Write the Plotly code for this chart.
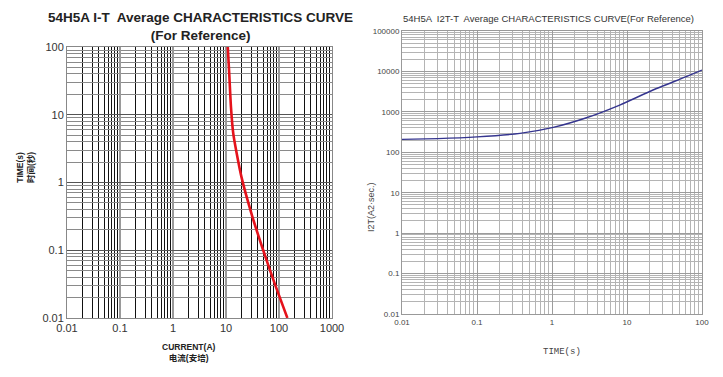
import plotly.graph_objects as go

# ---- data ----
it_current = [10.8, 11.5, 12.4, 13.7, 15.9, 19.6, 30.8, 48.9, 80.5, 144.0]
it_time    = [100, 40.9, 13.1, 5.3, 2.7, 1.2, 0.331, 0.107, 0.0344, 0.01]

i2t_time  = [0.01, 0.03, 0.1, 0.374, 1.04, 2.88, 8.0, 22.2, 61.6, 100]
i2t_value = [209, 218, 240, 294, 413, 715, 1472, 3470, 7400, 10800]

left_x_ticks = [0.01, 0.1, 1, 10, 100, 1000]
left_x_text = ["0.01", "0.1", "1", "10", "100", "1000"]
left_y_ticks = [0.01, 0.1, 1, 10, 100]
left_y_text = ["0.01", "0.1", "1", "10", "100"]
right_x_ticks = [0.01, 0.1, 1, 10, 100]
right_x_text = ["0.01", "0.1", "1", "10", "100"]
right_y_ticks = [0.01, 0.1, 1, 10, 100, 1000, 10000, 100000]
right_y_text = ["0.01", "0.1", "1", "10", "100", "1000", "10000", "100000"]

left_title = "54H5A I-T  Average CHARACTERISTICS CURVE<br>(For Reference)"
right_title = "54H5A  I2T-T  Average CHARACTERISTICS CURVE(For Reference)"


def minors(lo_exp, hi_exp):
    vals = []
    for e in range(lo_exp, hi_exp):
        for m in range(2, 10):
            vals.append(m * 10 ** e)
    return vals


# page body has an 8px margin: the figure is drawn from (8, 8)
OFF = 8
W, H = 723 - OFF, 377 - OFF


def px(x):
    return (x - OFF) / W


def py(y):
    return 1 - (y - OFF) / H


fig = go.Figure()

fig.add_trace(go.Scatter(x=it_current, y=it_time, mode="lines",
                         line=dict(color="#e5121b", width=2.6, shape="spline", smoothing=0.7),
                         xaxis="x", yaxis="y", showlegend=False))
fig.add_trace(go.Scatter(x=i2t_time, y=i2t_value, mode="lines",
                         line=dict(color="#35358f", width=1.4, shape="spline", smoothing=0.6),
                         xaxis="x2", yaxis="y2", showlegend=False))

tickfont_l = dict(family="Liberation Sans, Arial", size=11, color="#333333")
tickfont_r = dict(family="Liberation Sans, Arial", size=8, color="#444444")

fig.update_layout(
    width=W, height=H,
    margin=dict(l=0, r=0, t=0, b=0, autoexpand=False),
    paper_bgcolor="white", plot_bgcolor="white",
    xaxis=dict(type="log", range=[-2, 3], domain=[px(67), px(332)], automargin=False,
               tickmode="array", tickvals=left_x_ticks, ticktext=left_x_text,
               showgrid=True, gridcolor="#9a9a9a", gridwidth=1.6,
               minor=dict(tickvals=minors(-2, 3), showgrid=True, gridcolor="#111111", gridwidth=1),
               showline=True, linecolor="#888888", mirror=True, ticks="",
               tickfont=tickfont_l, anchor="y", zeroline=False),
    yaxis=dict(type="log", range=[-2, 2], domain=[py(318), py(47)], automargin=False,
               tickmode="array", tickvals=left_y_ticks, ticktext=left_y_text,
               showgrid=True, gridcolor="#555555", gridwidth=1,
               minor=dict(tickvals=minors(-2, 2), showgrid=True, gridcolor="#8a8a8a", gridwidth=1),
               showline=True, linecolor="#888888", mirror=True, ticks="",
               tickfont=tickfont_l, anchor="x", zeroline=False),
    xaxis2=dict(type="log", range=[-2, 2], domain=[px(402), px(702)], automargin=False,
                tickmode="array", tickvals=right_x_ticks, ticktext=right_x_text,
                showgrid=True, gridcolor="#9c9c9c", gridwidth=1,
                minor=dict(tickvals=minors(-2, 2), showgrid=True, gridcolor="#b4b4b4", gridwidth=1),
                showline=True, linecolor="#999999", mirror=True, ticks="",
                tickfont=tickfont_r, anchor="y2", zeroline=False),
    yaxis2=dict(type="log", range=[-2, 5], domain=[py(314), py(31)], automargin=False,
                tickmode="array", tickvals=right_y_ticks, ticktext=right_y_text,
                showgrid=True, gridcolor="#9c9c9c", gridwidth=1,
                minor=dict(tickvals=minors(-2, 5), showgrid=True, gridcolor="#b4b4b4", gridwidth=1),
                showline=True, linecolor="#999999", mirror=True, ticks="",
                tickfont=tickfont_r, anchor="x2", zeroline=False),
)

ann = [
    dict(text="<b>" + left_title.replace("<br>", "</b><br><b>") + "</b>", x=px(201), y=py(26),
         font=dict(family="Liberation Sans, Arial", size=13.5, color="#222222")),
    dict(text=right_title, x=px(548), y=py(18),
         font=dict(family="Liberation Sans, Arial", size=9.5, color="#333333")),
    dict(text="<b>TIME(s)</b><br><b>时间(秒)</b>", x=px(25), y=py(168), textangle=-90,
         font=dict(family="Liberation Sans, Noto Sans CJK SC", size=8.5, color="#222222")),
    dict(text="<b>CURRENT(A)</b><br><b>电流(安培)</b>", x=px(189), y=py(352),
         font=dict(family="Liberation Sans, Noto Sans CJK SC", size=8.5, color="#222222")),
    dict(text="I2T(A2·sec.)", x=px(371), y=py(207), textangle=-90,
         font=dict(family="Liberation Sans, Arial", size=9, color="#444444")),
    dict(text="TIME(s)", x=px(562), y=py(352),
         font=dict(family="Liberation Mono, DejaVu Sans Mono", size=9, color="#444444")),
]
for a in ann:
    a.update(xref="paper", yref="paper", showarrow=False, xanchor="center", yanchor="middle")
fig.update_layout(annotations=ann)

fig.write_html("out.html")
